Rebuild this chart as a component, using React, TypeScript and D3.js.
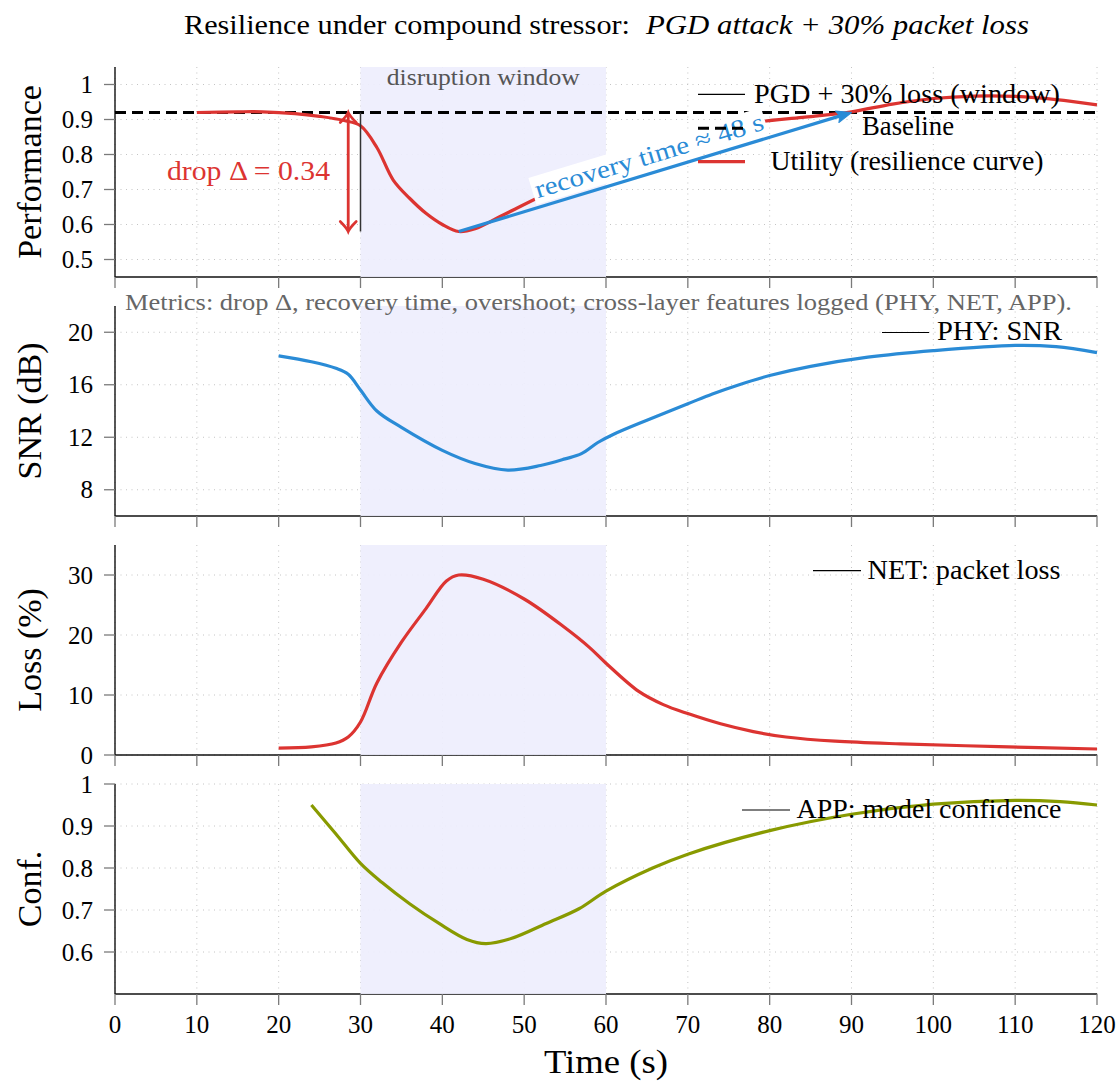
import React from "react";
import * as d3 from "d3";

// ---------------- data ----------------
const timeTicks = [0, 10, 20, 30, 40, 50, 60, 70, 80, 90, 100, 110, 120];
const perfTicks = [0.5, 0.6, 0.7, 0.8, 0.9, 1];
const snrTicks = [8, 12, 16, 20];
const lossTicks = [0, 10, 20, 30];
const confTicks = [0.6, 0.7, 0.8, 0.9, 1];

const utilityTime = [10, 15, 18, 22, 25, 28, 30, 32, 34, 36, 38, 40, 42, 44, 47, 52, 56, 60, 65, 70, 74, 79, 84, 90, 95, 100, 105, 110, 115, 120];
const utilityValue = [0.92, 0.922, 0.922, 0.917, 0.909, 0.897, 0.882, 0.82, 0.727, 0.675, 0.632, 0.6, 0.58, 0.588, 0.622, 0.68, 0.722, 0.762, 0.808, 0.848, 0.872, 0.894, 0.906, 0.922, 0.944, 0.96, 0.967, 0.966, 0.957, 0.942];

const snrTime = [20, 24, 27, 28.5, 30, 32, 35, 40, 44, 48, 52, 55, 57, 59, 61, 65, 70, 73, 76, 80, 85, 92, 100, 110, 115, 120];
const snrValue = [18.2, 17.75, 17.25, 16.8, 15.6, 14.0, 12.75, 11.0, 10.0, 9.5, 9.85, 10.35, 10.75, 11.6, 12.25, 13.3, 14.55, 15.3, 15.95, 16.7, 17.4, 18.1, 18.6, 19.0, 18.9, 18.45];

const lossTime = [20, 24, 27, 28.5, 30, 32, 35, 38, 40.5, 42, 45, 50, 55, 58, 60, 64, 67, 70, 74, 78, 82, 88, 96, 108, 120];
const lossValue = [1.15, 1.35, 2.0, 3.0, 5.5, 12.0, 18.8, 24.4, 29.0, 30.0, 29.3, 26.0, 21.2, 17.9, 15.3, 10.6, 8.4, 6.9, 5.2, 3.9, 3.0, 2.3, 1.85, 1.4, 1.0];

const confTime = [24, 27, 30, 32.6, 36, 39.6, 43, 45.3, 48.4, 52.7, 56.7, 60, 65.7, 70, 80, 90, 100, 110, 115.5, 120];
const confValue = [0.95, 0.881, 0.811, 0.766, 0.715, 0.668, 0.63, 0.62, 0.632, 0.668, 0.703, 0.745, 0.8, 0.833, 0.889, 0.928, 0.952, 0.961, 0.958, 0.95];

const baselineValue = 0.92;
const windowStart = 30;
const windowEnd = 60;
const dropTime = 28.5;
const dropTop = 0.92;
const dropBottom = 0.58;
const recoveryStart = [42, 0.58];
const recoveryEnd = [90, 0.92];

const FONT = "'Liberation Serif', 'Times New Roman', Times, serif";
const RED = "#dc3431";
const BLUE = "#2a8bd6";
const OLIVE = "#889a00";
const SHADE = "#eeeefd";

function zip(t: number[], v: number[]) {
  return t.map((d, i) => [d, v[i]] as [number, number]);
}

export default function App() {
  const W = 1118, H = 1083;
  const left = 115, right = 1097;
  const ph = 210;
  const x = d3.scaleLinear().domain([0, 120]).range([left, right]);

  const panels = [
    { top: 67, domain: [0.45, 1.05], ticks: perfTicks, label: "Performance" },
    { top: 306, domain: [6, 22], ticks: snrTicks, label: "SNR (dB)" },
    { top: 545, domain: [0, 35], ticks: lossTicks, label: "Loss (%)" },
    { top: 784, domain: [0.5, 1.0], ticks: confTicks, label: "Conf." },
  ].map((p) => ({ ...p, y: d3.scaleLinear().domain(p.domain).range([p.top + ph, p.top]) }));

  const mkLine = (ys: d3.ScaleLinear<number, number>) =>
    d3.line<[number, number]>().x((d) => x(d[0])).y((d) => ys(d[1])).curve(d3.curveCatmullRom.alpha(0.5));

  const y1 = panels[0].y;
  const y2 = panels[1].y;
  const y3 = panels[2].y;
  const y4 = panels[3].y;

  const ax0 = x(recoveryStart[0]), ay0 = y1(recoveryStart[1]);
  const ax1 = x(recoveryEnd[0]), ay1 = y1(recoveryEnd[1]);
  const ang = (Math.atan2(ay1 - ay0, ax1 - ax0) * 180) / Math.PI;
  const alen = Math.hypot(ax1 - ax0, ay1 - ay0);
  const mx = (ax0 + ax1) / 2, my = (ay0 + ay1) / 2;

  const dx = x(dropTime);
  const dTop = y1(dropTop), dBot = y1(dropBottom);

  return (
    <svg width={W} height={H} style={{ position: "absolute", left: 0, top: 0, background: "#fff", fontFamily: FONT }}>
      <style>{`text { font-family: ${FONT}; }`}</style>
      <rect x={0} y={0} width={W} height={H} fill="#fff" />
      {/* title */}
      <text x={184} y={34} fontSize={27} textLength={446} lengthAdjust="spacingAndGlyphs">Resilience under compound stressor:</text>
      <text x={646} y={34} fontSize={27} fontStyle="italic" textLength={383} lengthAdjust="spacingAndGlyphs">PGD attack + 30% packet loss</text>

      {panels.map((p, pi) => {
        const bottom = p.top + ph;
        return (
          <g key={pi}>
            {timeTicks.map((t) => (
              <line key={"gv" + t} x1={x(t)} x2={x(t)} y1={p.top} y2={bottom} stroke="#c4c4c4" strokeWidth={1} strokeDasharray="1 4.5" />
            ))}
            {p.ticks.map((v) => (
              <line key={"gh" + v} x1={left} x2={right} y1={p.y(v)} y2={p.y(v)} stroke="#c4c4c4" strokeWidth={1} strokeDasharray="1 4.5" />
            ))}
            <line x1={left} x2={right} y1={bottom} y2={bottom} stroke="#111" strokeWidth={1.4} />
            <line x1={left} x2={left} y1={p.top} y2={bottom} stroke="#111" strokeWidth={1.4} />
            <rect x={x(windowStart)} y={p.top} width={x(windowEnd) - x(windowStart)} height={ph} fill={SHADE} opacity={0.92} />
            {p.ticks.map((v) => (
              <g key={"yt" + v}>
                <line x1={left - 11} x2={left} y1={p.y(v)} y2={p.y(v)} stroke="#7a7a7a" strokeWidth={1.3} />
                <text x={93} y={p.y(v) + 8.5} fontSize={25} textAnchor="end">{String(v)}</text>
              </g>
            ))}
            {timeTicks.map((t) => (
              <line key={"xt" + t} x1={x(t)} x2={x(t)} y1={bottom} y2={bottom + 11} stroke="#7a7a7a" strokeWidth={1.3} />
            ))}
            <text transform={`translate(41,${p.top + ph / 2}) rotate(-90)`} fontSize={34} textAnchor="middle">{p.label}</text>
          </g>
        );
      })}

      {timeTicks.map((t) => (
        <text key={"xl" + t} x={x(t)} y={1033} fontSize={25} textAnchor="middle">{String(t)}</text>
      ))}
      <text x={606} y={1073} fontSize={34} textAnchor="middle" textLength={124} lengthAdjust="spacingAndGlyphs">Time (s)</text>

      {/* ---- panel 1 ---- */}
      <line x1={left} x2={right} y1={y1(baselineValue)} y2={y1(baselineValue)} stroke="#000" strokeWidth={3} strokeDasharray="11 6" />
      <path d={mkLine(y1)(zip(utilityTime, utilityValue)) || ""} fill="none" stroke={RED} strokeWidth={3.2} />
      <line x1={x(windowStart)} x2={x(windowStart)} y1={dTop} y2={dBot} stroke="#333" strokeWidth={1.5} />
      <line x1={dx} x2={dx} y1={dTop + 2} y2={dBot - 2} stroke={RED} strokeWidth={2.8} />
      <path d={`M${dx - 8},${dTop + 10} Q${dx - 1.5},${dTop + 3.5} ${dx},${dTop} Q${dx + 1.5},${dTop + 3.5} ${dx + 8},${dTop + 10}`} fill="none" stroke={RED} strokeWidth={2.7} strokeLinecap="round" />
      <path d={`M${dx - 8},${dBot - 10} Q${dx - 1.5},${dBot - 3.5} ${dx},${dBot} Q${dx + 1.5},${dBot - 3.5} ${dx + 8},${dBot - 10}`} fill="none" stroke={RED} strokeWidth={2.7} strokeLinecap="round" />
      <text x={330} y={180} fontSize={26.5} textAnchor="end" fill={RED} textLength={163} lengthAdjust="spacingAndGlyphs">drop Δ = 0.34</text>
      <text x={x(45)} y={85} fontSize={23.5} textAnchor="middle" fill="#555" textLength={193} lengthAdjust="spacingAndGlyphs">disruption window</text>

      <g transform={`translate(${mx},${my}) rotate(${ang})`}>
        <rect x={-123} y={-31} width={243} height={28} fill="#fff" />
        <text x={-1} y={-9} fontSize={25.5} textAnchor="middle" fill={BLUE} textLength={238} lengthAdjust="spacingAndGlyphs">recovery time ≈ 48 s</text>
      </g>
      <g transform={`translate(${ax0},${ay0}) rotate(${ang})`}>
        <line x1={0} x2={alen - 10} y1={0} y2={0} stroke={BLUE} strokeWidth={3.2} />
        <path d={`M${alen},0 L${alen - 15},-6 Q${alen - 11},0 ${alen - 15},6 Z`} fill={BLUE} stroke={BLUE} strokeWidth={1} strokeLinejoin="round" />
      </g>

      {/* legend panel 1 */}
      <line x1={698} x2={745} y1={94.3} y2={94.3} stroke="#000" strokeWidth={1.2} />
      <text x={907} y={102.5} fontSize={26.5} textAnchor="middle" textLength={306} lengthAdjust="spacingAndGlyphs">PGD + 30% loss (window)</text>
      <line x1={698} x2={745} y1={128.3} y2={128.3} stroke="#000" strokeWidth={3} strokeDasharray="11 6" />
      <text x={908} y={135} fontSize={26.5} textAnchor="middle" textLength={92} lengthAdjust="spacingAndGlyphs">Baseline</text>
      <line x1={698} x2={745} y1={161.7} y2={161.7} stroke={RED} strokeWidth={3.2} />
      <text x={907} y={170} fontSize={26.5} textAnchor="middle" textLength={273} lengthAdjust="spacingAndGlyphs">Utility (resilience curve)</text>

      {/* ---- panel 2 ---- */}
      <path d={mkLine(y2)(zip(snrTime, snrValue)) || ""} fill="none" stroke={BLUE} strokeWidth={3.2} />
      <line x1={882} x2={929} y1={332.5} y2={332.5} stroke="#000" strokeWidth={1.2} />
      <text x={937} y={339.5} fontSize={26.5} textLength={125} lengthAdjust="spacingAndGlyphs">PHY: SNR</text>

      {/* ---- panel 3 ---- */}
      <path d={mkLine(y3)(zip(lossTime, lossValue)) || ""} fill="none" stroke={RED} strokeWidth={3.2} />
      <line x1={813} x2={861} y1={570.7} y2={570.7} stroke="#000" strokeWidth={1.2} />
      <text x={867.5} y={578.5} fontSize={26.5} textLength={193} lengthAdjust="spacingAndGlyphs">NET: packet loss</text>

      {/* ---- panel 4 ---- */}
      <path d={mkLine(y4)(zip(confTime, confValue)) || ""} fill="none" stroke={OLIVE} strokeWidth={3.2} />
      <line x1={742} x2={790} y1={810} y2={810} stroke="#000" strokeWidth={1.2} />
      <text x={796.5} y={818} fontSize={26.5} textLength={265} lengthAdjust="spacingAndGlyphs">APP: model confidence</text>

      <text x={125} y={310} fontSize={23} fill="#666" textLength={947} lengthAdjust="spacingAndGlyphs">Metrics: drop Δ, recovery time, overshoot; cross-layer features logged (PHY, NET, APP).</text>
    </svg>
  );
}
